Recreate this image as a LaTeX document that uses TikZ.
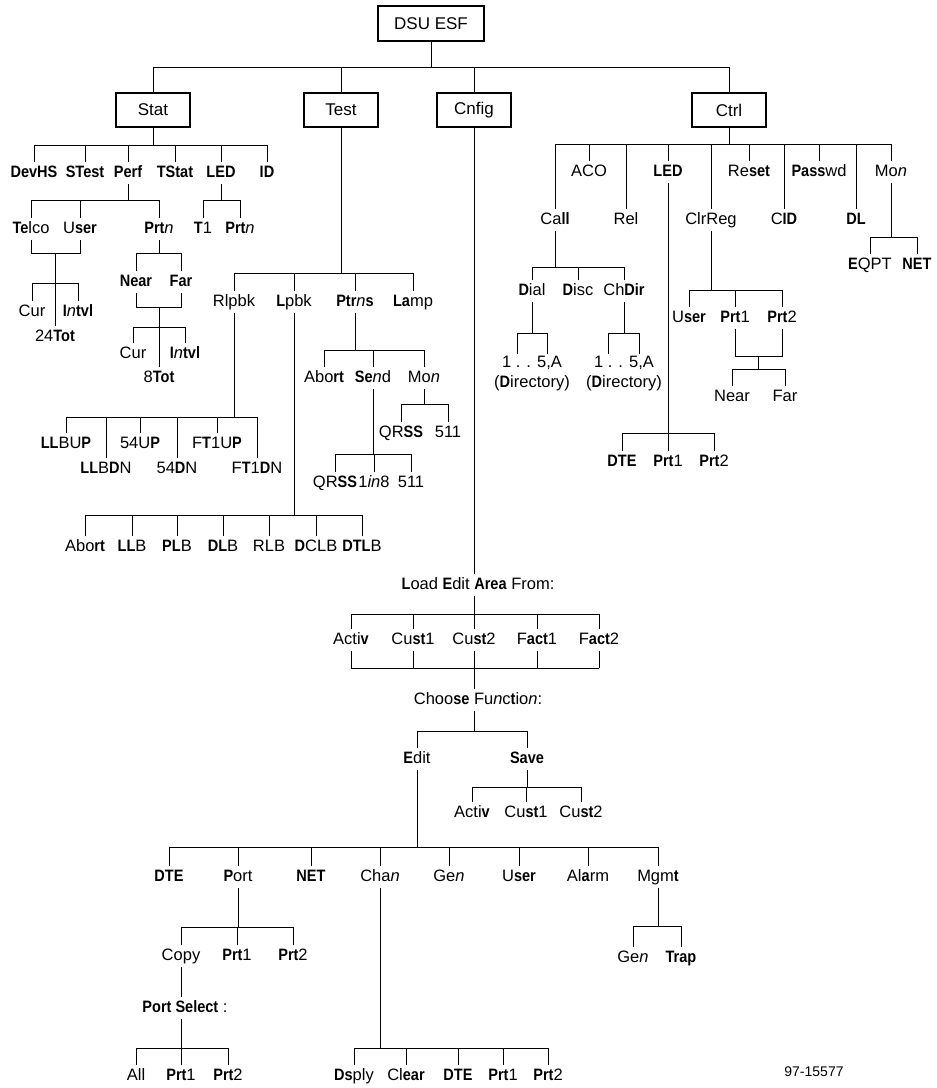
\documentclass[tikz,border=0pt]{standalone}
\usepackage{fontspec}
\setmainfont{Liberation Sans}[BoldFeatures={FakeStretch=0.88}]
\newcommand\bfx[1]{\textbf{#1}}
\newcommand\itx[1]{\textit{#1}}
% parent, bar y, first child, last child, all children
\newcommand\brk[5]{%
  \draw[conn] (#1.south) -- (#1.south |- 0,#2);
  \draw[conn] (#3.north |- 0,#2) -- (#4.north |- 0,#2);
  \foreach \cc in {#5} {\draw[conn] (\cc.north) -- (\cc.north |- 0,#2);}
}
\begin{document}
\begin{tikzpicture}[x=1pt,y=-1pt,
  conn/.style={line width=1pt},
  lbl/.style={inner xsep=1pt,inner ysep=3pt,text height=12pt,text depth=3.5pt,font=\fontsize{16.5}{20}\selectfont},
  ml/.style={inner sep=2pt,align=center,font=\fontsize{16.5}{20}\selectfont},
  topbox/.style={draw,line width=2.5pt,minimum width=74pt,minimum height=34pt,inner sep=2pt,font=\fontsize{17}{20}\selectfont}]
\useasboundingbox (0,0) rectangle (937,1088);

% ---------- top level ----------
\node[topbox,minimum width=106pt,minimum height=35pt] (root) at (431,23.5) {DSU ESF};
\node[topbox] (stat) at (153,110) {Stat};
\node[topbox] (test) at (341,110) {Test};
\node[topbox] (cnfig) at (474,110) {Cnfig};
\node[topbox] (ctrl) at (729,110) {Ctrl};
\brk{root}{67}{stat}{ctrl}{stat,test,cnfig,ctrl}

% ---------- Stat ----------
\node[lbl] (devhs) at (34,173) {\bfx{DevHS}};
\node[lbl] (stest) at (85,173) {\bfx{STest}};
\node[lbl] (perf) at (128,173) {\bfx{Perf}};
\node[lbl] (tstat) at (175,173) {\bfx{TStat}};
\node[lbl] (sled) at (221,173) {\bfx{LED}};
\node[lbl] (sid) at (267,173) {\bfx{ID}};
\brk{stat}{145}{devhs}{sid}{devhs,stest,perf,tstat,sled,sid}

\node[lbl] (telco) at (31,229) {\bfx{Te}lco};
\node[lbl] (suser) at (80,229) {U\bfx{ser}};
\node[lbl] (sprtn) at (159,229) {\bfx{Prt}\itx{n}};
\brk{perf}{200}{telco}{sprtn}{telco,suser,sprtn}
\node[lbl] (t1) at (203,229) {\bfx{T}1};
\node[lbl] (sledprtn) at (240,229) {\bfx{Prt}\itx{n}};
\brk{sled}{200}{t1}{sledprtn}{t1,sledprtn}

\node[lbl] (cur1) at (32,312) {Cur};
\node[lbl] (intvl1) at (78,312) {\bfx{I}\itx{n}\bfx{tvl}};
\node[lbl] (tot24) at (55,337) {24\bfx{Tot}};
\coordinate (tuj) at (55,253);
\draw[conn] (telco.south) -- (telco.south |- tuj) -- (suser.south |- tuj) -- (suser.south);
\draw[conn] (tuj) -- (tot24.north);
\draw[conn] (cur1.north) -- (cur1.north |- 0,283) -- (intvl1.north |- 0,283) -- (intvl1.north);

\node[lbl] (snear) at (136,282) {\bfx{Near}};
\node[lbl] (sfar) at (181,282) {\bfx{Far}};
\brk{sprtn}{253}{snear}{sfar}{snear,sfar}
\node[lbl] (cur2) at (133,354) {Cur};
\node[lbl] (intvl2) at (185,354) {\bfx{I}\itx{n}\bfx{tvl}};
\node[lbl] (tot8) at (159,378) {8\bfx{Tot}};
\coordinate (nfj) at (159,307);
\draw[conn] (snear.south) -- (snear.south |- nfj) -- (sfar.south |- nfj) -- (sfar.south);
\draw[conn] (nfj) -- (tot8.north);
\draw[conn] (cur2.north) -- (cur2.north |- 0,327) -- (intvl2.north |- 0,327) -- (intvl2.north);

% ---------- Test ----------
\node[lbl] (rlpbk) at (234,302) {Rlpbk};
\node[lbl] (lpbk) at (294,302) {\bfx{L}pbk};
\node[lbl] (ptrns) at (355,302) {\bfx{Ptr}\itx{n}\bfx{s}};
\node[lbl] (lamp) at (413,302) {\bfx{La}mp};
\brk{test}{273}{rlpbk}{lamp}{rlpbk,lpbk,ptrns,lamp}

\node[lbl] (abort) at (324,378) {Abo\bfx{rt}};
\node[lbl] (send) at (373,378) {\bfx{Se}\itx{n}d};
\node[lbl] (tmon) at (424,378) {Mo\itx{n}};
\brk{ptrns}{350}{abort}{tmon}{abort,send,tmon}
\node[lbl] (qrss1) at (401,433) {QR\bfx{SS}};
\node[lbl] (t511a) at (448,433) {511};
\brk{tmon}{404}{qrss1}{t511a}{qrss1,t511a}
\node[lbl] (qrss2) at (335,483) {QR\bfx{SS}};
\node[lbl] (in8) at (374,483) {1\itx{in}8};
\node[lbl] (t511b) at (411,483) {511};
\brk{send}{454}{qrss2}{t511b}{qrss2,in8,t511b}

\node[lbl] (llbup) at (66,444) {\bfx{LL}BU\bfx{P}};
\node[lbl] (llbdn) at (106,469) {\bfx{LL}B\bfx{D}N};
\node[lbl] (up54) at (140,444) {54U\bfx{P}};
\node[lbl] (dn54) at (177,469) {54\bfx{D}N};
\node[lbl] (ft1up) at (217,444) {F\bfx{T}1U\bfx{P}};
\node[lbl] (ft1dn) at (257,469) {F\bfx{T}1\bfx{D}N};
\brk{rlpbk}{417}{llbup}{ft1dn}{llbup,llbdn,up54,dn54,ft1up,ft1dn}

\node[lbl] (labort) at (85,547) {Abo\bfx{rt}};
\node[lbl] (llb) at (132,547) {\bfx{LL}B};
\node[lbl] (plb) at (177,547) {\bfx{PL}B};
\node[lbl] (dlb) at (223,547) {\bfx{DL}B};
\node[lbl] (rlb) at (269,547) {RLB};
\node[lbl] (dclb) at (316,547) {\bfx{D}CLB};
\node[lbl] (dtlb) at (362,547) {\bfx{DTL}B};
\brk{lpbk}{515}{labort}{dtlb}{labort,llb,plb,dlb,rlb,dclb,dtlb}

% ---------- Cnfig ----------
\node[lbl] (load) at (478,585) {\bfx{L}oad \bfx{E}dit \bfx{Area} From:};
\draw[conn] (cnfig.south) -- (cnfig.south |- load.north);
\node[lbl] (activ1) at (351,640) {Acti\bfx{v}};
\node[lbl] (cust1a) at (413,640) {Cu\bfx{st}1};
\node[lbl] (cust2a) at (474,640) {Cu\bfx{st}2};
\node[lbl] (fact1) at (537,640) {F\bfx{act}1};
\node[lbl] (fact2) at (599,640) {F\bfx{act}2};
\draw[conn] (cust2a |- load.south) -- (cust2a |- 0,614);
\draw[conn] (activ1.north |- 0,614) -- (fact2.north |- 0,614);
\foreach \cc in {activ1,cust1a,cust2a,fact1,fact2}{
  \draw[conn] (\cc.north) -- (\cc.north |- 0,614);
  \draw[conn] (\cc.south) -- (\cc.south |- 0,668);}
\draw[conn] (activ1.south |- 0,668) -- (fact2.south |- 0,668);
\node[lbl] (choose) at (478,700) {Choo\bfx{se} Fu\itx{n}c\bfx{t}io\itx{n}:};
\draw[conn] (cust2a |- 0,668) -- (cust2a |- choose.north);

\node[lbl] (edit) at (417,759) {\bfx{E}dit};
\node[lbl] (save) at (527,759) {\bfx{Save}};
\draw[conn] (cust2a |- choose.south) -- (cust2a |- 0,731);
\draw[conn] (edit.north |- 0,731) -- (save.north |- 0,731);
\foreach \cc in {edit,save}{\draw[conn] (\cc.north) -- (\cc.north |- 0,731);}

\node[lbl] (sactiv) at (472,813) {Acti\bfx{v}};
\node[lbl] (scust1) at (526,813) {Cu\bfx{st}1};
\node[lbl] (scust2) at (581,813) {Cu\bfx{st}2};
\brk{save}{787}{sactiv}{scust2}{sactiv,scust1,scust2}

\node[lbl] (dte) at (169,877) {\bfx{DTE}};
\node[lbl] (port) at (238,877) {\bfx{P}ort};
\node[lbl] (net) at (311,877) {\bfx{NET}};
\node[lbl] (chan) at (380,877) {Cha\itx{n}};
\node[lbl] (gen) at (449,877) {Ge\itx{n}};
\node[lbl] (euser) at (519,877) {U\bfx{ser}};
\node[lbl] (alarm) at (588,877) {Al\bfx{a}rm};
\node[lbl] (mgmt) at (658,877) {Mgm\bfx{t}};
\brk{edit}{847}{dte}{mgmt}{dte,port,net,chan,gen,euser,alarm,mgmt}

\node[lbl] (copy) at (181,956) {Copy};
\node[lbl] (pprt1) at (237,956) {\bfx{Prt}1};
\node[lbl] (pprt2) at (293,956) {\bfx{Prt}2};
\brk{port}{927}{copy}{pprt2}{copy,pprt1,pprt2}
\node[lbl] (portsel) at (185,1008) {\bfx{Port Select} :};
\draw[conn] (copy.south) -- (copy.south |- portsel.north);
\node[lbl] (all) at (136,1076) {All};
\node[lbl] (psprt1) at (181,1076) {\bfx{Prt}1};
\node[lbl] (psprt2) at (228,1076) {\bfx{Prt}2};
\draw[conn] (psprt1 |- portsel.south) -- (psprt1 |- 0,1048);
\draw[conn] (all.north |- 0,1048) -- (psprt2.north |- 0,1048);
\foreach \cc in {all,psprt1,psprt2}{\draw[conn] (\cc.north) -- (\cc.north |- 0,1048);}

\node[lbl] (dsply) at (354,1076) {\bfx{Ds}ply};
\node[lbl] (clear) at (406,1076) {Cl\bfx{ear}};
\node[lbl] (cdte) at (458,1076) {\bfx{DTE}};
\node[lbl] (cprt1) at (503,1076) {\bfx{Prt}1};
\node[lbl] (cprt2) at (548,1076) {\bfx{Prt}2};
\brk{chan}{1048}{dsply}{cprt2}{dsply,clear,cdte,cprt1,cprt2}

\node[lbl] (mgen) at (633,958) {Ge\itx{n}};
\node[lbl] (trap) at (681,958) {\bfx{Trap}};
\brk{mgmt}{926}{mgen}{trap}{mgen,trap}

\node[font=\fontsize{14}{16}\selectfont] (fignum) at (814,1072) {97-15577};

% ---------- Ctrl ----------
\node[lbl] (call) at (555,220) {Ca\bfx{ll}};
\node[lbl] (aco) at (589,172) {ACO};
\node[lbl] (rel) at (626,220) {Rel};
\node[lbl] (cled) at (668,172) {\bfx{LED}};
\node[lbl] (clrreg) at (711,220) {ClrReg};
\node[lbl] (reset) at (749,172) {Re\bfx{set}};
\node[lbl] (cid) at (784,220) {C\bfx{ID}};
\node[lbl] (passwd) at (819,172) {\bfx{Pass}wd};
\node[lbl] (dl) at (856,220) {\bfx{DL}};
\node[lbl] (cmon) at (891,172) {Mo\itx{n}};
\brk{ctrl}{144}{call}{cmon}{call,aco,rel,cled,clrreg,reset,cid,passwd,dl,cmon}

\node[lbl] (dial) at (532,291) {\bfx{D}ial};
\node[lbl] (disc) at (578,291) {\bfx{D}isc};
\node[lbl] (chdir) at (624,291) {Ch\bfx{Dir}};
\brk{call}{267}{dial}{chdir}{dial,disc,chdir}

\node[ml] (dialdir) at (532,374) {1 . . 5,A\\(\bfx{D}irectory)};
\node[ml] (chdirdir) at (624,374) {1 . . 5,A\\(\bfx{D}irectory)};
\coordinate (dl1) at (517,333);
\coordinate (dl2) at (547,333);
\coordinate (cd1) at (608,333);
\coordinate (cd2) at (639,333);
\draw[conn] (dial.south) -- (dial.south |- dl1);
\draw[conn] (dl1 |- dialdir.north) -- (dl1) -- (dl2) -- (dl2 |- dialdir.north);
\draw[conn] (chdir.south) -- (chdir.south |- cd1);
\draw[conn] (cd1 |- chdirdir.north) -- (cd1) -- (cd2) -- (cd2 |- chdirdir.north);

\node[lbl] (ldte) at (622,462) {\bfx{DTE}};
\node[lbl] (lprt1) at (668,462) {\bfx{Prt}1};
\node[lbl] (lprt2) at (714,462) {\bfx{Prt}2};
\brk{cled}{433}{ldte}{lprt2}{ldte,lprt1,lprt2}

\node[lbl] (cuser) at (689,318) {U\bfx{ser}};
\node[lbl] (cprt1b) at (735,318) {\bfx{Prt}1};
\node[lbl] (cprt2b) at (782,318) {\bfx{Prt}2};
\brk{clrreg}{290}{cuser}{cprt2b}{cuser,cprt1b,cprt2b}
\node[lbl] (cnear) at (732,397) {Near};
\node[lbl] (cfar) at (785,397) {Far};
\coordinate (ppj) at (758,356);
\draw[conn] (cprt1b.south) -- (cprt1b.south |- ppj) -- (cprt2b.south |- ppj) -- (cprt2b.south);
\draw[conn] (ppj) -- (ppj |- 0,369);
\draw[conn] (cnear.north) -- (cnear.north |- 0,369) -- (cfar.north |- 0,369) -- (cfar.north);

\node[lbl] (eqpt) at (870,265) {\bfx{E}QPT};
\node[lbl] (cnet) at (917,265) {\bfx{NET}};
\brk{cmon}{237}{eqpt}{cnet}{eqpt,cnet}
\end{tikzpicture}
\end{document}
